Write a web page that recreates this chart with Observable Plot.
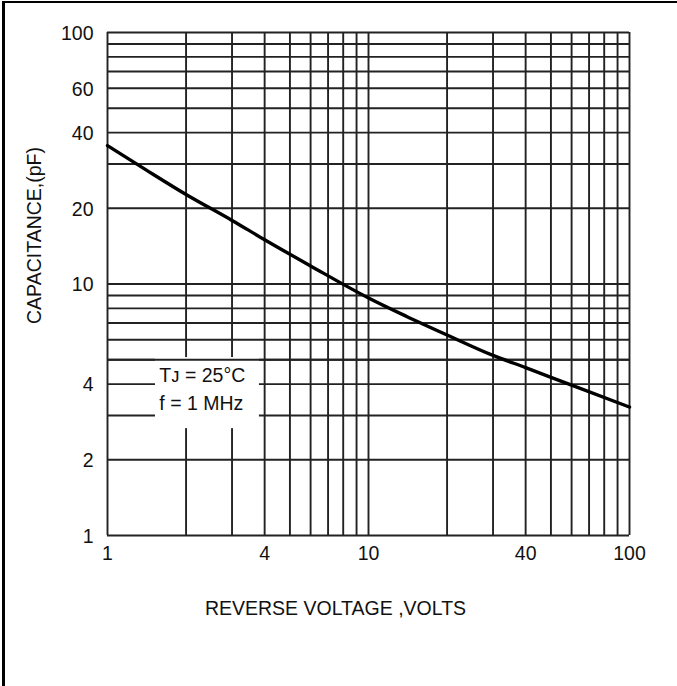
<!DOCTYPE html>
<html>
<head>
<meta charset="utf-8">
<script src="https://cdn.jsdelivr.net/npm/d3@7"></script>
<script src="https://cdn.jsdelivr.net/npm/@observablehq/plot@0.6"></script>
<style>
  html, body { margin: 0; padding: 0; background: white; }
  #wrap { position: relative; width: 677px; height: 686px; overflow: hidden; }
  #border { position: absolute; left: 2px; top: 1px; width: 700px; height: 700px;
            border-top: 2px solid #000; border-left: 3px solid #000; pointer-events: none; }
</style>
</head>
<body>
<div id="wrap"><div id="border"></div></div>
<script>
// Reverse voltage (V) and junction capacitance (pF)
const voltage     = [1, 1.4, 2, 3, 4, 6, 10, 14, 20, 30, 40, 60, 100];
const capacitance = [35.5, 28.5, 22.7, 17.9, 15.0, 11.8, 8.8, 7.43, 6.27, 5.2, 4.65, 3.96, 3.24];

// Axis tick labels and log grid lines
const xTicks = [1, 4, 10, 40, 100];
const yTicks = [1, 2, 4, 10, 20, 40, 60, 100];
const xGrid = [1, 2, 3, 4, 5, 6, 7, 8, 9, 10, 20, 30, 40, 50, 60, 70, 80, 90, 100];
const yGrid = [1, 2, 3, 4, 5, 6, 7, 8, 9, 10, 20, 30, 40, 50, 60, 70, 80, 90, 100];

// Conditions note (text and its white box)
const noteLines = ["T\u1D0A = 25°C", "f = 1 MHz"];
const noteX = [1.58, 1.58];
const noteY = [4.33, 3.35];
const noteBox = [{x1: 1.527, x2: 3.82, y1: 2.66, y2: 5.1}];

const xTitle = "REVERSE VOLTAGE ,VOLTS";
const yTitle = "CAPACITANCE,(pF)";

const curve = voltage.map((v, i) => ({v, c: capacitance[i]}));
const notes = noteLines.map((t, i) => ({t, x: noteX[i], y: noteY[i]}));

const gridStyle = {stroke: "#222", strokeWidth: 1.9};
const FS = 19.5;

const chart = Plot.plot({
  width: 677,
  height: 686,
  marginLeft: 107,
  marginRight: 48,
  marginTop: 32,
  marginBottom: 151,
  style: {fontFamily: "'Liberation Sans', Arial, sans-serif", fontSize: FS + "px", color: "#111", background: "transparent", overflow: "visible"},
  x: {type: "log", domain: [1, 100], axis: null},
  y: {type: "log", domain: [1, 100], axis: null},
  marks: [
    Plot.ruleX(xGrid, gridStyle),
    Plot.ruleY(yGrid, gridStyle),
    Plot.rect(noteBox, {x1: "x1", x2: "x2", y1: "y1", y2: "y2", fill: "white"}),
    Plot.ruleY([5], gridStyle),
    Plot.line(curve, {x: "v", y: "c", stroke: "#000", strokeWidth: 3.4, curve: "monotone-x"}),
    Plot.text(notes, {x: "x", y: "y", text: "t", textAnchor: "start", fill: "#111", fontSize: FS}),
    // tick labels
    Plot.text(xTicks, {x: d => d, text: d => String(d), frameAnchor: "bottom", lineAnchor: "top", dy: 11, fill: "#111", fontSize: FS}),
    Plot.text(yTicks, {y: d => d, text: d => String(d), frameAnchor: "left", textAnchor: "end", dx: -14, dy: 1, fill: "#111", fontSize: FS}),
    // axis titles
    Plot.text([xTitle], {frameAnchor: "bottom", dx: -33, dy: 73.5, lineAnchor: "middle", fill: "#111", fontSize: FS}),
    Plot.text([yTitle], {frameAnchor: "left", textAnchor: "middle", rotate: -90, dx: -73, dy: -48.5, fill: "#111", fontSize: FS})
  ]
});
document.getElementById("wrap").prepend(chart);
</script>
</body>
</html>
